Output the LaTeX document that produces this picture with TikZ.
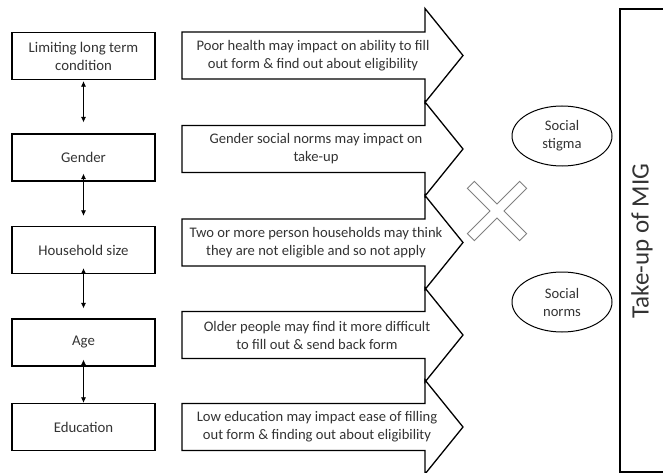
\documentclass[tikz,border=0pt]{standalone}
\usepackage{fontspec}
\setmainfont{Carlito}
\usetikzlibrary{shapes.geometric,arrows.meta}

\colorlet{ink}{black!80}
\tikzset{
  factor/.style={draw, line width=1.3pt, minimum width=143pt, minimum height=47pt,
    align=center, text=ink, font=\fontsize{14.8}{18}\selectfont},
  effect/.style={align=center, text=ink, font=\fontsize{14.6}{18}\selectfont},
  bubble/.style={draw, ellipse, line width=1pt, minimum width=100pt, minimum height=60pt,
    align=center, inner sep=0pt, text=ink, font=\fontsize{14.6}{18}\selectfont},
  link/.style={<->, >={Latex[length=5.5pt,width=5pt]}, line width=0.7pt}
}

\begin{document}
\begin{tikzpicture}[x=1pt, y=-1pt]
\def \bodyl {182}
\def \bodyr {425}
\def \tip {463}
\def \half {23.5} % half of the arrow body
\def \headhalf {47}

\useasboundingbox (0,0) rectangle (663,473);
\clip (0,0) rectangle (663,473);

% the big arrows, one per row
\foreach \y in {55.5, 149, 242.5, 335, 427}
{
  \draw[line width=1.3pt, fill=white] (\bodyl,\y-\half) -- (\bodyr,\y-\half)
    -- (\bodyr,\y-\headhalf) -- (\tip,\y) -- (\bodyr,\y+\headhalf)
    -- (\bodyr,\y+\half) -- (\bodyl,\y+\half) -- cycle;
}

\node[effect] (health) at (313,55.5) {Poor health may impact on ability to fill\\out form \& find out about eligibility};
\node[effect] (norms) at (316,149) {Gender social norms may impact on\\take-up};
\node[effect] (single) at (316,242.5) {Two or more person households may think\\they are not eligible and so not apply};
\node[effect] (older) at (317,335) {Older people may find it more difficult\\to fill out \& send back form};
\node[effect] (lowedu) at (317,427) {Low education may impact ease of filling\\out form \& finding out about eligibility};

% factors on the left
\node[factor] (ltc) at (83.5,56) {Limiting long term\\condition};
\node[factor] (gender) at (83.5,157.5) {Gender};
\node[factor] (hhsize) at (83.5,250) {Household size};
\node[factor] (age) at (83.5,342.5) {Age};
\node[factor] (edu) at (83.5,427) {Education};

\draw[link, shorten <=1pt, shorten >=11pt] (ltc.south) -- (gender.north);
\draw[link, shorten <=-8pt, shorten >=10pt] (gender.south) -- (hhsize.north);
\draw[link, shorten <=-6pt, shorten >=10pt] (hhsize.south) -- (age.north);
\draw[link, shorten <=-7pt, shorten >=0pt] (age.south) -- (edu.north);

% the cross
\draw[black!50, line width=0.9pt, shift={(497,211)}, rotate=45]
  (-5,-37) -- (5,-37) -- (5,-5) -- (37,-5) -- (37,5) -- (5,5) -- (5,37)
  -- (-5,37) -- (-5,5) -- (-37,5) -- (-37,-5) -- (-5,-5) -- cycle;

\node[bubble] (stigma) at (562,136) {Social\\stigma};
\node[bubble] (socnorms) at (562,302) {Social\\norms};

% outcome box, runs off the right edge
\draw[line width=1.3pt] (620,9) rectangle (690,472);
\node[rotate=90, text=ink, font=\fontsize{25}{30}\selectfont] (takeup) at (642,241) {Take-up of MIG};
\end{tikzpicture}
\end{document}
